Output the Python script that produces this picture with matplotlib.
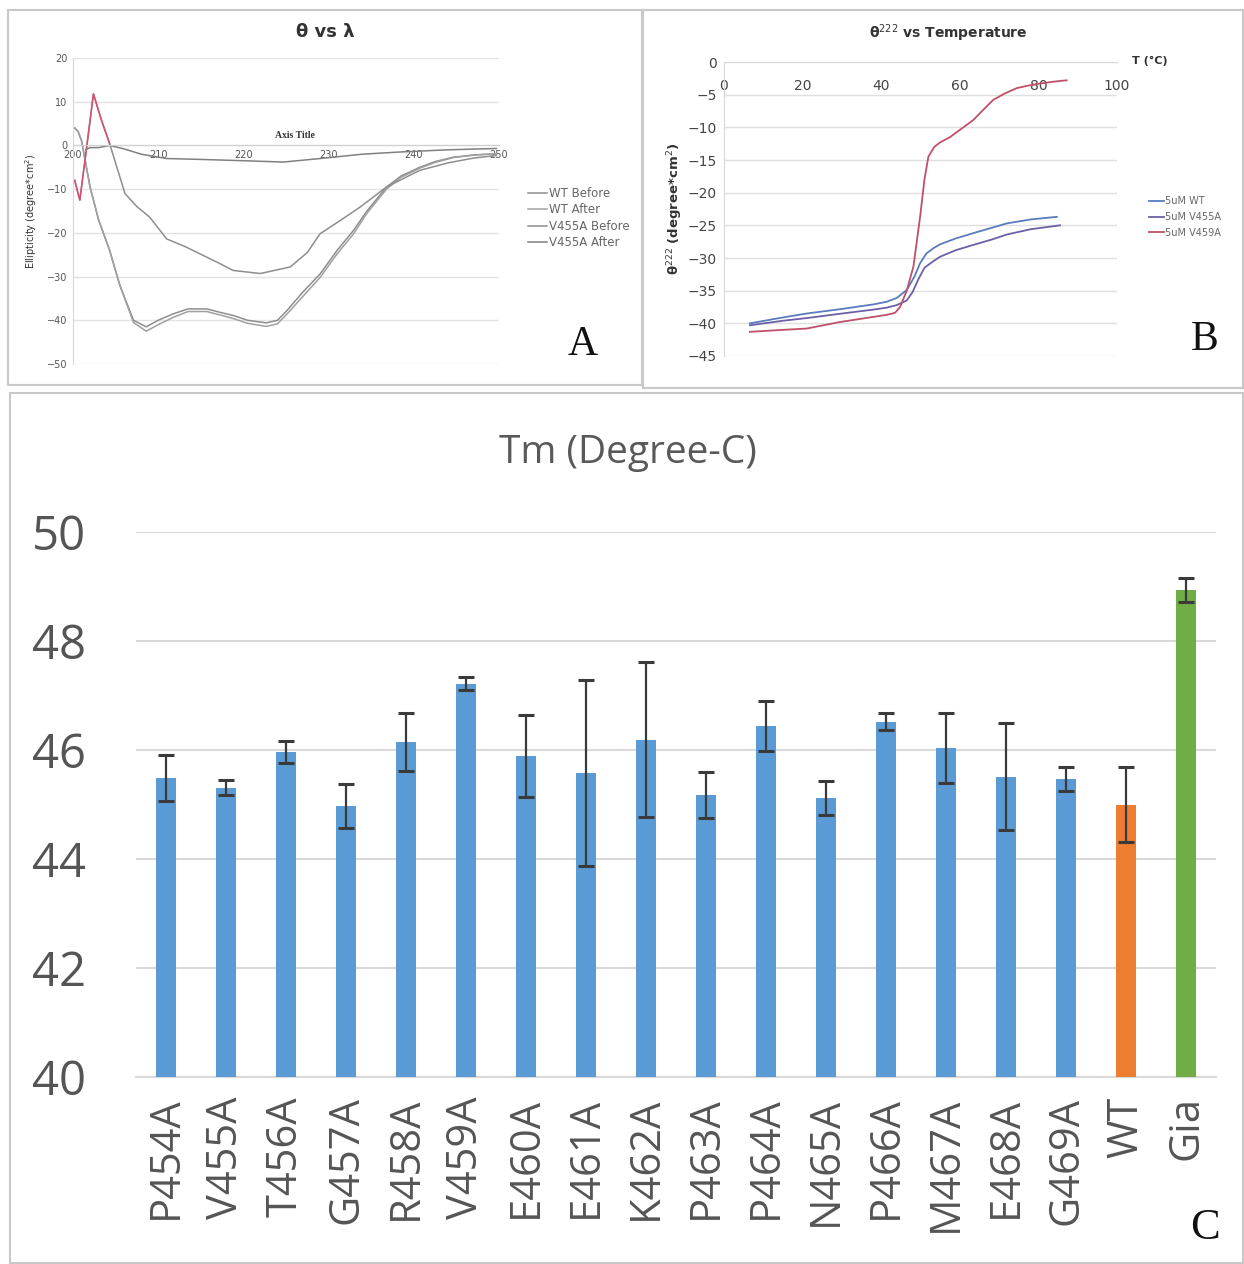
import matplotlib
matplotlib.use("Agg")
import matplotlib.pyplot as plt
from matplotlib.patches import Rectangle

# ============================ DATA ============================
# Panel A: CD spectra (theta vs wavelength)
wl_before = [200.2, 200.6, 201.0, 202.0, 203.0, 204.3, 205.5, 207.1, 208.6, 210.0,
             211.8, 213.5, 215.7, 217.5, 218.8, 220.5, 222.7, 224.0, 225.1, 227.0,
             229.0, 231.0, 232.9, 234.5, 236.8, 238.5, 240.7, 242.5, 244.6, 247.0, 249.7]
wt_before = [4.0, 3.2, 1.1, -9.5, -17.0, -24.0, -32.0, -40.0, -41.5, -40.0,
             -38.5, -37.4, -37.4, -38.3, -38.9, -40.0, -40.6, -40.0, -37.8, -33.5,
             -29.4, -24.0, -19.5, -15.0, -9.5, -7.0, -5.0, -3.7, -2.7, -2.2, -1.9]
wt_after = [4.0, 3.2, 1.1, -9.5, -17.0, -24.0, -32.0, -40.5, -42.5, -41.0,
            -39.3, -38.0, -38.0, -38.9, -39.6, -40.7, -41.4, -40.8, -38.6, -34.5,
            -30.2, -24.8, -20.3, -15.5, -10.0, -7.3, -5.2, -3.9, -2.8, -2.2, -1.9]

wl_v455a_before = [200.2, 200.8, 201.5, 202.4, 203.3, 204.3, 206.1, 207.5, 209.0, 211.0,
                   213.0, 214.9, 217.0, 218.8, 222.0, 225.5, 227.5, 229.0, 231.5, 233.7,
                   236.8, 240.7, 244.0, 247.0, 249.7]
v455a_before = [-8.0, -12.5, -2.0, 11.8, 6.0, 0.4, -11.0, -14.0, -16.4, -21.4,
                -23.0, -24.8, -26.8, -28.6, -29.3, -27.8, -24.5, -20.2, -17.0, -14.1,
                -9.5, -5.7, -4.0, -2.9, -2.3]

wl_v455a_after = [201.5, 202.0, 203.0, 204.3, 206.0, 208.0, 211.0, 215.0, 220.0,
                  224.7, 229.0, 234.0, 238.4, 244.0, 249.7]
v455a_after = [-1.0, -0.5, -0.5, 0.0, -0.8, -2.0, -3.0, -3.2, -3.5,
               -3.8, -3.0, -2.0, -1.5, -1.0, -0.7]

# Panel B: theta(222) vs temperature
temp_wt = [6.6, 15, 21, 30, 38, 41.4, 44, 46.5, 48.5, 49.9, 51.5, 53.3, 55, 59,
           63.4, 68, 72, 78, 84.7]
theta_wt = [-40.0, -39.1, -38.5, -37.8, -37.1, -36.7, -36.1, -34.9, -32.8, -30.8,
            -29.3, -28.5, -27.9, -27.0, -26.2, -25.4, -24.7, -24.1, -23.7]
temp_v455a = [6.6, 15, 21, 30, 38, 41.4, 44, 46.5, 48, 49.5, 51, 53, 55, 59,
              63.4, 68, 72, 78, 85.5]
theta_v455a = [-40.3, -39.6, -39.2, -38.5, -37.9, -37.6, -37.2, -36.5, -35.2, -33.2,
               -31.5, -30.6, -29.8, -28.8, -28.0, -27.2, -26.4, -25.6, -25.0]
temp_v459a = [6.6, 15, 21, 29.5, 36, 41.4, 43.5, 44.8, 46.5, 48.2, 49.9, 51.0, 52.0,
              53.5, 55, 57.5, 60, 63.4, 66, 68.5, 71.5, 74.5, 77.5, 80.4, 84, 87.2]
theta_v459a = [-41.3, -41.0, -40.8, -39.8, -39.2, -38.7, -38.4, -37.5, -35.0, -31.3,
               -23.7, -18.0, -14.5, -13.0, -12.3, -11.5, -10.4, -8.9, -7.3, -5.8,
               -4.8, -4.0, -3.6, -3.3, -3.0, -2.8]

# Panel C: melting temperatures
mutants = ["P454A", "V455A", "T456A", "G457A", "R458A", "V459A", "E460A", "E461A",
           "K462A", "P463A", "P464A", "N465A", "P466A", "M467A", "E468A", "G469A",
           "WT", "Gia"]
tm = [45.49, 45.31, 45.96, 44.97, 46.15, 47.22, 45.89, 45.58,
      46.19, 45.18, 46.44, 45.12, 46.52, 46.04, 45.51, 45.47,
      45.0, 48.94]
tm_err = [0.42, 0.14, 0.2, 0.4, 0.53, 0.12, 0.76, 1.7,
          1.42, 0.42, 0.45, 0.32, 0.16, 0.64, 0.98, 0.22,
          0.68, 0.22]
bar_colors = ["#5B9BD5"] * 16 + ["#ED7D31", "#70AD47"]
# ===============================================================

W, H = 1244, 1264
fig = plt.figure(figsize=(W / 100, H / 100), dpi=100)


def fx(px):
    return px / W


def fy(py):
    return 1 - py / H


def panel_box(x0, y0, x1, y1):
    fig.patches.append(Rectangle((fx(x0), fy(y1)), fx(x1 - x0), (y1 - y0) / H,
                                 transform=fig.transFigure, fill=False,
                                 edgecolor="#c8c8c8", linewidth=1.5))


panel_box(8, 10, 642, 385)
panel_box(643, 10, 1243, 388)
panel_box(10, 393, 1243, 1263)

# ---------------- Panel A ----------------
axA = fig.add_axes([fx(73), fy(364), fx(499 - 73), (364 - 58) / H])
grey = "#8e8e8e"
axA.plot(wl_before, wt_before, color=grey, lw=1.1, label="WT Before")
axA.plot(wl_before, wt_after, color="#a0a0a0", lw=1.1, label="WT After")
axA.plot(wl_v455a_before, v455a_before, color=grey, lw=1.1, label="V455A Before")
axA.plot(wl_v455a_before[:6], v455a_before[:6], color="#d6506e", lw=1.1)
axA.plot(wl_v455a_after, v455a_after, color="#808080", lw=1.1, label="V455A After")
axA.set_xlim(200, 250)
axA.set_ylim(-50, 20)
axA.set_yticks(range(-50, 21, 10))
axA.set_xticks(range(200, 251, 10))
axA.grid(axis="y", color="#e3e3e3", lw=1)
axA.set_axisbelow(True)
for s in ["top", "right"]:
    axA.spines[s].set_visible(False)
axA.spines["bottom"].set_position(("data", 0))
axA.spines["bottom"].set_color("#d0d0d0")
axA.spines["left"].set_color("#d8d8d8")
axA.tick_params(length=0, labelsize=7, labelcolor="#555555", pad=4)
axA.tick_params(axis="x", pad=3)
axA.set_ylabel("Ellipticity (degree*cm$^2$)", fontsize=7, color="#333333", labelpad=6)
axA.legend(loc="center left", bbox_to_anchor=(fx(517), fy(218)),
           bbox_transform=fig.transFigure, frameon=False, fontsize=8.5,
           handlelength=1.6, labelspacing=0.3, handletextpad=0.2,
           labelcolor="#666666")
fig.text(fx(325), fy(32), "θ vs λ", ha="center", va="center", fontsize=13,
         fontweight="bold", color="#333333")
fig.text(fx(295), fy(135), "Axis Title", ha="center", va="center", fontsize=7,
         fontweight="bold", family="Liberation Serif", color="#333333")
fig.text(fx(583), fy(345), "A", ha="center", va="center", fontsize=30,
         family="Liberation Serif", color="#111111")

# ---------------- Panel B ----------------
axB = fig.add_axes([fx(724), fy(356), fx(1117 - 724), (356 - 62) / H])
axB.plot(temp_wt, theta_wt, color="#5a7bbf", lw=1.3, label="5uM WT")
axB.plot(temp_v455a, theta_v455a, color="#6d5fa8", lw=1.3, label="5uM V455A")
axB.plot(temp_v459a, theta_v459a, color="#c0506a", lw=1.3, label="5uM V459A")
axB.set_xlim(0, 100)
axB.set_ylim(-45, 0)
axB.set_yticks(range(-45, 1, 5))
axB.set_xticks(range(0, 101, 20))
axB.grid(axis="y", color="#e0e0e0", lw=1)
axB.set_axisbelow(True)
for s in ["top", "right"]:
    axB.spines[s].set_visible(False)
axB.spines["bottom"].set_position(("data", 0))
axB.spines["bottom"].set_color("#d8d8d8")
axB.spines["left"].set_color("#d8d8d8")
axB.tick_params(length=0, labelsize=10, labelcolor="#444444")
axB.tick_params(axis="x", pad=12)
axB.tick_params(axis="y", pad=5)
axB.set_ylabel("θ$^{222}$ (degree*cm$^2$)", fontsize=9.5, fontweight="bold",
               color="#333333", labelpad=2)
axB.legend(loc="center left", bbox_to_anchor=(fx(1140), fy(217)),
           bbox_transform=fig.transFigure, frameon=False, fontsize=7,
           handlelength=1.6, labelspacing=0.6, handletextpad=0.1,
           labelcolor="#666666")
fig.text(fx(948), fy(33), "θ$^{222}$ vs Temperature", ha="center", va="center",
         fontsize=10, fontweight="bold", color="#333333")
fig.text(fx(1150), fy(61), "T (°C)", ha="center", va="center", fontsize=8,
         fontweight="bold", color="#333333")
fig.text(fx(1205), fy(340), "B", ha="center", va="center", fontsize=30,
         family="Liberation Serif", color="#111111")

# ---------------- Panel C ----------------
axC = fig.add_axes([fx(136), fy(1077), fx(1216 - 136), (1077 - 532) / H])
x = list(range(len(mutants)))
axC.bar(x, [v - 40 for v in tm], width=0.34, bottom=40, color=bar_colors,
        yerr=tm_err, ecolor="#3a3a3a", capsize=6,
        error_kw={"elinewidth": 1.6, "capthick": 2.2}, zorder=3)
axC.set_xlim(-0.5, len(mutants) - 0.5)
axC.set_ylim(40, 50)
axC.set_yticks(range(40, 51, 2))
axC.set_xticks(x)
axC.set_xticklabels(mutants, rotation=90, family="Open Sans")
for lab in axC.get_yticklabels():
    lab.set_family("Open Sans")
axC.grid(axis="y", color="#d9d9d9", lw=1.5, zorder=0)
for s in ["top", "right", "left"]:
    axC.spines[s].set_visible(False)
axC.spines["bottom"].set_color("#d9d9d9")
axC.spines["bottom"].set_linewidth(1.5)
axC.tick_params(axis="y", length=0, labelsize=34, labelcolor="#555555", pad=36)
axC.tick_params(axis="x", length=0, labelsize=30, labelcolor="#555555", pad=14)
fig.text(fx(628), fy(453), "Tm (Degree-C)", ha="center", va="center",
         fontsize=28, family="Open Sans", color="#595959")
fig.text(fx(1205), fy(1228), "C", ha="center", va="center", fontsize=32,
         family="Liberation Serif", color="#111111")

fig.savefig("out.png", dpi=100)
